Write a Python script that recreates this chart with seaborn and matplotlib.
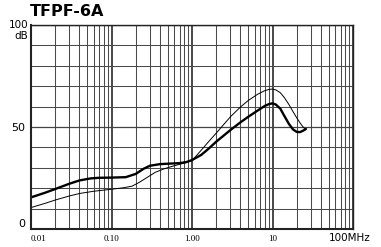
import matplotlib
matplotlib.use("Agg")
import matplotlib.pyplot as plt
import seaborn as sns
import pandas as pd
import numpy as np
from matplotlib.ticker import LogLocator, MultipleLocator, NullFormatter, FixedLocator

# ---- data ----
freq_a = [0.01, 0.015, 0.02, 0.03, 0.04, 0.055, 0.07, 0.1, 0.15, 0.2, 0.25, 0.3, 0.4, 0.5, 0.7,
          0.85, 1.0, 1.3, 1.6, 2.0, 3.0, 4.0, 5.0, 6.5, 8.0, 9.0, 10.0, 11.0, 12.5, 14.0, 16.0,
          18.0, 20.0, 22.0, 24.0, 26.0]
db_a = [15.5, 17.8, 19.6, 22.2, 23.8, 24.8, 25.1, 25.2, 25.4, 27.0, 29.5, 31.0, 31.8, 32.0, 32.3,
        32.8, 33.8, 36.3, 39.3, 42.8, 48.5, 52.3, 55.0, 58.0, 60.3, 61.2, 61.6, 61.0, 59.0, 55.5, 51.5,
        48.8, 47.6, 47.5, 48.2, 49.0]
freq_b = [0.01, 0.015, 0.02, 0.03, 0.04, 0.06, 0.1, 0.14, 0.18, 0.22, 0.27, 0.35, 0.45, 0.6, 0.8,
          1.0, 1.3, 1.6, 2.0, 3.0, 4.0, 5.0, 6.5, 8.0, 9.0, 10.0, 11.0, 12.5, 14.0, 16.0, 18.0,
          20.0, 22.0, 24.0, 25.5]
db_b = [10.5, 12.6, 14.2, 16.2, 17.4, 18.5, 19.5, 20.2, 21.0, 22.8, 25.0, 27.8, 29.5, 31.0, 32.3,
        33.5, 38.6, 42.7, 47.0, 55.0, 59.8, 63.0, 66.0, 67.8, 68.4, 68.6, 68.2, 66.8, 64.5, 61.0, 57.5,
        54.5, 52.0, 50.0, 49.0]
x_tick_vals = [0.01, 0.1, 1, 10]
x_tick_labels = ["0.01", "0.10", "1.00", "10"]
y_tick_vals = [0, 50]
y_tick_labels = ["0", "50"]
title = "TFPF-6A"

df_a = pd.DataFrame({"f": freq_a, "db": db_a})
df_b = pd.DataFrame({"f": freq_b, "db": db_b})

sns.set_style("white")
plt.rcParams["text.color"] = "black"
plt.rcParams["xtick.color"] = "black"
plt.rcParams["ytick.color"] = "black"
fig = plt.figure(figsize=(3.81, 2.47), dpi=100)
ax = fig.add_axes([31/381, 1-229/247, (353-31)/381, (229-25)/247])
ax.set_xscale("log")
ax.set_xlim(0.01, 100)
ax.set_ylim(0, 100)

ax.xaxis.set_major_locator(FixedLocator([0.01, 0.1, 1, 10, 100]))
ax.xaxis.set_minor_locator(LogLocator(base=10, subs=np.arange(2, 10), numticks=20))
ax.xaxis.set_minor_formatter(NullFormatter())
ax.yaxis.set_major_locator(FixedLocator([0, 50, 100]))
ax.yaxis.set_minor_locator(MultipleLocator(10))
ax.grid(which="major", axis="x", color="#2a2a2a", linewidth=1.2)
ax.grid(which="major", axis="y", color="#444444", linewidth=0.9)
ax.grid(which="minor", color="#4a4a4a", linewidth=0.75)
ax.tick_params(which="both", length=0)
ax.set_axisbelow(True)

sns.lineplot(data=df_b, x="f", y="db", ax=ax, color="black", linewidth=0.7, sort=False)
sns.lineplot(data=df_a, x="f", y="db", ax=ax, color="black", linewidth=1.7, sort=False)
for line in ax.lines:
    line.set_solid_joinstyle("round")
    line.set_solid_capstyle("round")

ax.set_xlabel("")
ax.set_ylabel("")
ax.set_xticks(x_tick_vals + [100])
ax.set_xticklabels(x_tick_labels + [""], fontfamily="Liberation Serif", fontsize=6.5, color="black")
ax.get_xticklabels()[0].set_ha("left")
ax.tick_params(axis="x", pad=4)
ax.set_yticks(y_tick_vals + [100])
ax.set_yticklabels(y_tick_labels + [""], fontfamily="DejaVu Sans", fontsize=8, color="black")
ax.tick_params(axis="y", pad=4)
ax.get_yticklabels()[0].set_va("bottom")

for s in ax.spines.values():
    s.set_color("#222222")
    s.set_linewidth(1.0)
ax.spines["left"].set_linewidth(1.5)
ax.spines["bottom"].set_linewidth(1.5)

fig.text(30/381, 1-12/247, title, fontsize=11.5, fontweight="bold", family="DejaVu Sans",
         ha="left", va="center", color="black")
fig.text(28/381, 1-25/247, "100", fontsize=7.5, ha="right", va="center", family="DejaVu Sans")
fig.text(28/381, 1-36/247, "dB", fontsize=7.5, ha="right", va="center", family="DejaVu Sans")
fig.text(350/381, 1-238/247, "100MHz", fontsize=7.5, ha="center", va="center", family="DejaVu Sans")

fig.savefig("out.png", dpi=100, facecolor="white")
